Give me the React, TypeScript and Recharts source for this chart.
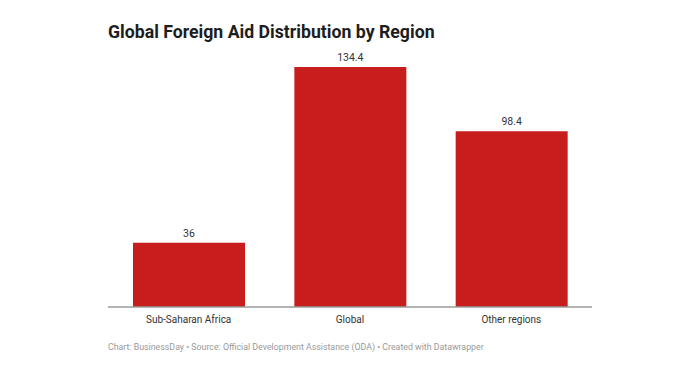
import { BarChart, Bar, XAxis, YAxis, LabelList } from 'recharts';

const regions = ['Sub-Saharan Africa', 'Global', 'Other regions'];
const aidValues = [36, 134.4, 98.4];

const data = regions.map((region, i) => ({ region, value: aidValues[i] }));

const FONT = 'Roboto, "Noto Sans", sans-serif';

export default function App() {
    return (
        <div style={{ position: 'absolute', left: 0, top: 0, width: 700, height: 375, background: '#fff', fontFamily: FONT }}>
            <div style={{ position: 'absolute', left: 108, top: 22, fontSize: 17.7, fontWeight: 700, color: '#1d1d1d', whiteSpace: 'nowrap' }}>
                Global Foreign Aid Distribution by Region
            </div>
            <BarChart
                width={700}
                height={375}
                data={data}
                margin={{ top: 67, right: 108, bottom: 38, left: 108 }}
                barSize={112}
            >
                <XAxis
                    dataKey="region"
                    height={30}
                    tickLine={false}
                    axisLine={{ stroke: '#9a9a9a', strokeWidth: 1.5 }}
                    tick={{ fill: '#333', fontSize: 10, fontFamily: FONT }}
                    tickMargin={3}
                    interval={0}
                />
                <YAxis hide domain={[0, 134.4]} />
                <Bar dataKey="value" fill="#c71e1d" isAnimationActive={false}>
                    <LabelList dataKey="value" position="top" offset={6} fill="#333" fontSize={10.5} fontFamily={FONT} />
                </Bar>
            </BarChart>
            <div style={{ position: 'absolute', left: 108, top: 342, fontSize: 8.8, color: '#9a9a9a', whiteSpace: 'nowrap' }}>
                Chart: BusinessDay • Source: Official Development Assistance (ODA) • Created with Datawrapper
            </div>
        </div>
    );
}
